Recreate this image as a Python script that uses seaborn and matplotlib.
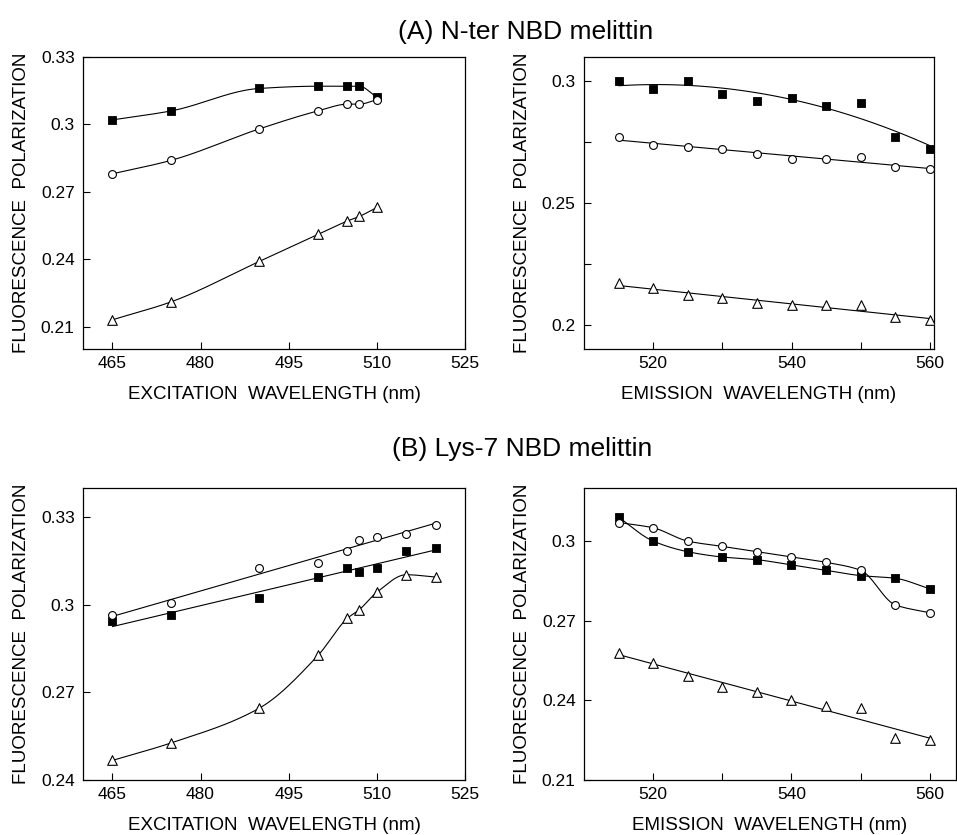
import numpy as np
import seaborn as sns
import matplotlib
matplotlib.use("Agg")
import matplotlib.pyplot as plt
from matplotlib.ticker import FixedLocator, FormatStrFormatter

# ---- data ----
# (A) N-ter NBD melittin
exc_a = [465, 475, 490, 500, 505, 507, 510]
exc_a_sq = [0.302, 0.306, 0.316, 0.317, 0.317, 0.317, 0.312]
exc_a_ci = [0.278, 0.284, 0.298, 0.306, 0.309, 0.309, 0.311]
exc_a_tr = [0.213, 0.221, 0.239, 0.251, 0.257, 0.259, 0.263]

em = [515, 520, 525, 530, 535, 540, 545, 550, 555, 560]
em_a_sq = [0.300, 0.297, 0.300, 0.295, 0.292, 0.293, 0.290, 0.291, 0.277, 0.272]
em_a_ci = [0.277, 0.274, 0.273, 0.272, 0.270, 0.268, 0.268, 0.269, 0.265, 0.264]
em_a_tr = [0.217, 0.215, 0.212, 0.211, 0.209, 0.208, 0.208, 0.208, 0.203, 0.202]

# (B) Lys-7 NBD melittin
exc_b = [465, 475, 490, 500, 505, 507, 510, 515, 520]
exc_b_sq = [0.2945, 0.2964, 0.3024, 0.3094, 0.3125, 0.3114, 0.3125, 0.3183, 0.3196]
exc_b_ci = [0.2964, 0.3005, 0.3125, 0.3144, 0.3183, 0.3223, 0.3233, 0.3244, 0.3274]
exc_b_tr = [0.2467, 0.2527, 0.2646, 0.2827, 0.2954, 0.2983, 0.3043, 0.3103, 0.3095]

em_b_sq = [0.309, 0.300, 0.296, 0.294, 0.293, 0.291, 0.289, 0.287, 0.286, 0.282]
em_b_ci = [0.307, 0.305, 0.300, 0.298, 0.296, 0.294, 0.292, 0.289, 0.276, 0.273]
em_b_tr = [0.258, 0.254, 0.249, 0.245, 0.243, 0.240, 0.238, 0.237, 0.226, 0.225]


def smooth_curve(x, y, n=300):
    # monotone cubic (Fritsch-Carlson) through the points, no overshoot
    x = np.asarray(x, float)
    y = np.asarray(y, float)
    h = np.diff(x)
    d = np.diff(y) / h
    m = np.zeros_like(y)
    for i in range(1, len(x) - 1):
        if d[i - 1] * d[i] > 0:
            w1 = 2 * h[i] + h[i - 1]
            w2 = h[i] + 2 * h[i - 1]
            m[i] = (w1 + w2) / (w1 / d[i - 1] + w2 / d[i])
    m[0] = d[0]
    m[-1] = d[-1]
    xs = np.linspace(x[0], x[-1], n)
    idx = np.clip(np.searchsorted(x, xs) - 1, 0, len(x) - 2)
    t = (xs - x[idx]) / h[idx]
    h00 = 2 * t ** 3 - 3 * t ** 2 + 1
    h10 = t ** 3 - 2 * t ** 2 + t
    h01 = -2 * t ** 3 + 3 * t ** 2
    h11 = t ** 3 - t ** 2
    ys = h00 * y[idx] + h10 * h[idx] * m[idx] + h01 * y[idx + 1] + h11 * h[idx] * m[idx + 1]
    return xs, ys


LW = 0.8
MARK = {"sq": dict(marker="s", s=40, color="black", edgecolor="black", linewidth=0.6),
        "ci": dict(marker="o", s=32, color="white", edgecolor="black", linewidth=0.8),
        "tr": dict(marker="^", s=48, color="white", edgecolor="black", linewidth=0.8)}


def draw(ax, x, y, kind, fit):
    if fit == "spline":
        xs, ys = smooth_curve(x, y)
        sns.lineplot(x=xs, y=ys, ax=ax, color="black", linewidth=LW, sort=False,
                     estimator=None, zorder=2)
    else:
        sns.regplot(x=np.asarray(x, float), y=np.asarray(y, float), ax=ax,
                    scatter=False, ci=None, order=fit, truncate=True,
                    line_kws=dict(color="black", linewidth=LW, zorder=2))
    sns.scatterplot(x=x, y=y, ax=ax, zorder=3, **MARK[kind])


sns.set_style("ticks")
plt.rcParams["font.family"] = ["Liberation Sans", "DejaVu Sans"]
plt.rcParams.update({"text.color": "black", "axes.labelcolor": "black",
                     "xtick.color": "black", "ytick.color": "black"})

W, H = 957, 835
fig = plt.figure(figsize=(W / 100, H / 100), dpi=100)


def box(x0, x1, y0, y1):
    return [x0 / W, 1 - y1 / H, (x1 - x0) / W, (y1 - y0) / H]


ax1 = fig.add_axes(box(83, 465, 57, 349))
ax2 = fig.add_axes(box(584, 934, 57, 349))
ax3 = fig.add_axes(box(83, 465, 488, 780))
ax4 = fig.add_axes(box(584, 956, 488, 780))

draw(ax1, exc_a, exc_a_sq, "sq", "spline")
draw(ax1, exc_a, exc_a_ci, "ci", "spline")
draw(ax1, exc_a, exc_a_tr, "tr", "spline")

draw(ax2, em, em_a_sq, "sq", 2)
draw(ax2, em, em_a_ci, "ci", 1)
draw(ax2, em, em_a_tr, "tr", 1)

draw(ax3, exc_b, exc_b_sq, "sq", 1)
draw(ax3, exc_b, exc_b_ci, "ci", 1)
draw(ax3, exc_b, exc_b_tr, "tr", "spline")

draw(ax4, em, em_b_sq, "sq", "spline")
draw(ax4, em, em_b_ci, "ci", "spline")
draw(ax4, em, em_b_tr, "tr", 1)

# axis limits and ticks
ax1.set_xlim(460, 525)
ax1.set_ylim(0.20, 0.33)
ax1.yaxis.set_major_locator(FixedLocator([0.21, 0.24, 0.27, 0.30, 0.33]))
ax3.set_xlim(460, 525)
ax3.set_ylim(0.24, 0.34)
ax3.yaxis.set_major_locator(FixedLocator([0.24, 0.27, 0.30, 0.33]))
for ax in (ax1, ax3):
    ax.xaxis.set_major_locator(FixedLocator([465, 480, 495, 510, 525]))
    ax.set_xlabel("EXCITATION  WAVELENGTH (nm)")

ax2.set_xlim(510, 560.6)
ax2.set_ylim(0.19, 0.31)
ax2.yaxis.set_major_locator(FixedLocator([0.20, 0.25, 0.30]))
ax2.yaxis.set_minor_locator(FixedLocator([0.225, 0.275]))
ax4.set_xlim(510, 563.8)
ax4.set_ylim(0.21, 0.32)
ax4.yaxis.set_major_locator(FixedLocator([0.21, 0.24, 0.27, 0.30]))
for ax in (ax2, ax4):
    ax.xaxis.set_major_locator(FixedLocator([520, 540, 560]))
    ax.xaxis.set_minor_locator(FixedLocator([530, 550]))
    ax.set_xlabel("EMISSION  WAVELENGTH (nm)")

for ax in (ax1, ax2, ax3, ax4):
    ax.yaxis.set_major_formatter(FormatStrFormatter("%g"))
    ax.tick_params(which="both", direction="in", length=5, width=0.8,
                   labelsize=12.5, color="black")
    ax.tick_params(axis="y", pad=6)
    ax.tick_params(axis="x", pad=5)
    for sp in ax.spines.values():
        sp.set_visible(True)
        sp.set_linewidth(0.9)
        sp.set_color("black")
    ax.set_ylabel("FLUORESCENCE  POLARIZATION", fontsize=13.5, labelpad=8)
    ax.xaxis.label.set_size(13.5)
    ax.xaxis.labelpad = 11

fig.text(526 / W, 1 - 32 / H, "(A) N-ter NBD melittin", ha="center", va="center", fontsize=19)
fig.text(522 / W, 1 - 449 / H, "(B) Lys-7 NBD melittin", ha="center", va="center", fontsize=19)

fig.savefig("out.png", dpi=100)
